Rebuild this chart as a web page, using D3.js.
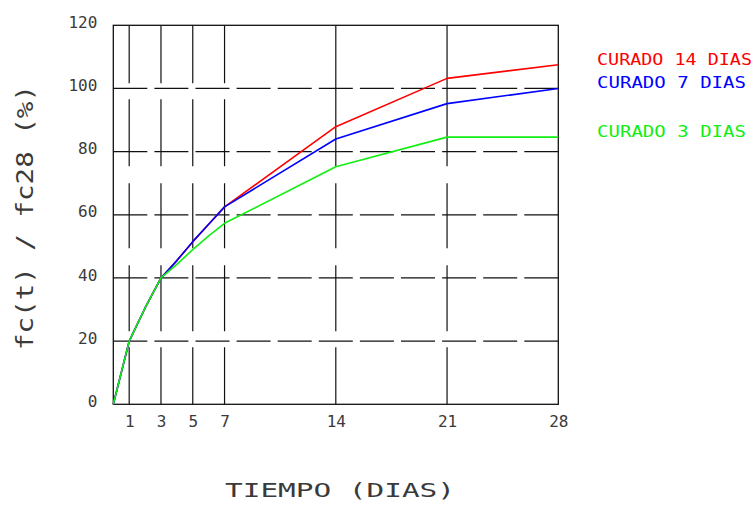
<!DOCTYPE html>
<html>
<head>
<meta charset="utf-8">
<script src="https://cdn.jsdelivr.net/npm/d3@7"></script>
<style>
  html, body { margin: 0; padding: 0; background: #fff; }
  svg { display: block; }
  text { font-family: "DejaVu Sans Mono", monospace; }
</style>
</head>
<body>
<svg id="chart" width="754" height="507"></svg>
<script>
// Edad del ensayo (días) y resistencia relativa fc(t)/fc28 (%) para cada tipo de curado
const dias      = [0, 1, 2, 3, 4, 5, 6, 7, 14, 21, 28];
const curado14  = [0, 20, 30.5, 40, 45.5, 51.5, 57, 62.5, 87.9, 103.2, 107.5];
const curado7   = [0, 20, 30.5, 40, 45.5, 51.5, 57, 62.5, 84.0, 95.2, 100];
const curado3   = [0, 20, 30.5, 40, 44.3, 49, 53.3, 57.3, 75.2, 84.6, 84.6];

const xTicks = [1, 3, 5, 7, 14, 21, 28];
const yTicks = [0, 20, 40, 60, 80, 100, 120];
const yGrid  = [20, 40, 60, 80, 100];

const series = [
  { name: "CURADO 14 DIAS", values: curado14, color: "#ff0000" },
  { name: "CURADO 7 DIAS",  values: curado7,  color: "#0000ff" },
  { name: "CURADO 3 DIAS",  values: curado3,  color: "#11ee11" }
];

const svg = d3.select("#chart");
const x = d3.scaleLinear().domain([0, 28]).range([113.3, 558.3]);
const y = d3.scaleLinear().domain([0, 120]).range([404.3, 25.3]);

const ink = "#111";
const textInk = "#3a3a3a";

// Líneas horizontales de referencia (discontinuas)
svg.append("g").selectAll("line").data(yGrid).join("line")
  .attr("x1", x(0)).attr("x2", x(28))
  .attr("y1", d => y(d)).attr("y2", d => y(d))
  .attr("stroke", ink).attr("stroke-width", 1.2)
  .attr("stroke-dasharray", "34,7.1");

// Líneas verticales en las edades de ensayo, trazadas de abajo hacia arriba
svg.append("g").selectAll("line").data(xTicks.filter(d => d < 28)).join("line")
  .attr("x1", d => x(d)).attr("x2", d => x(d))
  .attr("y1", y(0)).attr("y2", y(120))
  .attr("stroke", ink).attr("stroke-width", 1.2)
  .attr("stroke-dasharray", d => d <= 7 ? "57,16,66,17,65,17,67,16,60" : "57,16,66,17,65,17,150");

// Marco del gráfico
svg.append("rect")
  .attr("x", x(0)).attr("y", y(120))
  .attr("width", x(28) - x(0)).attr("height", y(0) - y(120))
  .attr("fill", "none").attr("stroke", ink).attr("stroke-width", 1.3);

// Curvas de resistencia
const line = d3.line().x((d, i) => x(dias[i])).y(d => y(d));
svg.append("g").selectAll("path").data(series).join("path")
  .attr("d", d => line(d.values))
  .attr("fill", "none")
  .attr("stroke", d => d.color)
  .attr("stroke-width", 1.6)
  .attr("stroke-linejoin", "round");

// Ejes
const axX = svg.append("g")
  .attr("transform", `translate(0,${y(0)})`)
  .call(d3.axisBottom(x).tickValues(xTicks).tickSize(0).tickPadding(11.3));
axX.select(".domain").remove();
axX.selectAll("text")
  .attr("font-family", "DejaVu Sans Mono, monospace")
  .attr("font-size", 16).attr("fill", textInk);

const axY = svg.append("g")
  .attr("transform", `translate(${x(0)},0)`)
  .call(d3.axisLeft(y).tickValues(yTicks).tickSize(0).tickPadding(16));
axY.select(".domain").remove();
axY.selectAll("text")
  .attr("dy", "0.13em")
  .attr("font-family", "DejaVu Sans Mono, monospace")
  .attr("font-size", 16).attr("fill", textInk);

// Títulos de los ejes
svg.append("text")
  .attr("x", 225).attr("y", 497)
  .attr("font-size", 19).attr("fill", textInk)
  .attr("textLength", 230).attr("lengthAdjust", "spacingAndGlyphs")
  .text("TIEMPO (DIAS)");

svg.append("text")
  .attr("transform", "translate(33,350) rotate(-90)")
  .attr("font-size", 23).attr("fill", textInk)
  .attr("textLength", 265).attr("lengthAdjust", "spacingAndGlyphs")
  .text("fc(t) / fc28 (%)");

// Leyenda
const legendY = [65, 88.3, 136.7];
const legendW = [155, 149, 149];
svg.append("g").selectAll("text").data(series).join("text")
  .attr("x", 597).attr("y", (d, i) => legendY[i])
  .attr("font-size", 16).attr("fill", d => d.color)
  .attr("textLength", (d, i) => legendW[i]).attr("lengthAdjust", "spacingAndGlyphs")
  .text(d => d.name);
</script>
</body>
</html>
